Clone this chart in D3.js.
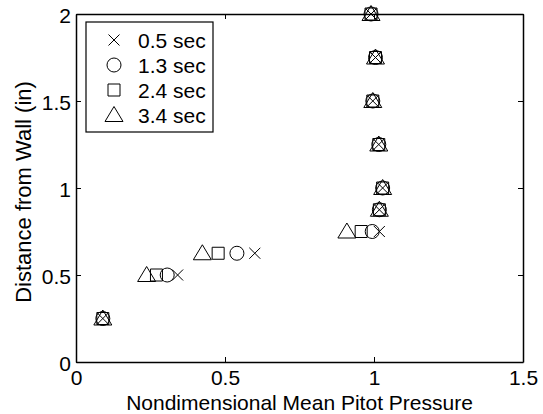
<!DOCTYPE html>
<html>
<head>
<meta charset="utf-8">
<script src="https://cdn.jsdelivr.net/npm/d3@7"></script>
<style>
  html, body { margin: 0; padding: 0; background: #fff; }
  svg { display: block; }
  text { font-family: "Liberation Sans", Arial, Helvetica, sans-serif; fill: #000; }
</style>
</head>
<body>
<svg id="chart" width="543" height="414"></svg>
<script>
// ---- data ----
const seriesNames = ["0.5 sec", "1.3 sec", "2.4 sec", "3.4 sec"];
const seriesMarkers = ["x", "circle", "square", "triangle"];
const distance = [0.25, 0.5, 0.625, 0.75, 0.875, 1.0, 1.25, 1.5, 1.75, 2.0];
const pressure05 = [0.09, 0.341, 0.600, 1.018, 1.018, 1.029, 1.016, 0.996, 1.005, 0.99];
const pressure13 = [0.09, 0.306, 0.540, 0.994, 1.018, 1.029, 1.016, 0.996, 1.005, 0.99];
const pressure24 = [0.09, 0.270, 0.477, 0.957, 1.018, 1.029, 1.016, 0.996, 1.005, 0.99];
const pressure34 = [0.09, 0.237, 0.424, 0.909, 1.018, 1.029, 1.016, 0.996, 1.005, 0.99];
const xTicks = [0, 0.5, 1, 1.5];
const yTicks = [0, 0.5, 1, 1.5, 2];
const xLabel = "Nondimensional Mean Pitot Pressure";
const yLabel = "Distance from Wall (in)";

const seriesValues = [pressure05, pressure13, pressure24, pressure34];

// ---- layout ----
const plot = { left: 76, right: 523, top: 14, bottom: 362 };
const fontSize = 21;

const svg = d3.select("#chart");
const x = d3.scaleLinear().domain([0, 1.5]).range([plot.left, plot.right]);
const y = d3.scaleLinear().domain([0, 2]).range([plot.bottom, plot.top]);

const fmt = d => String(d);

function markerPath(type) {
  const p = d3.path();
  if (type === "x") {
    const h = 5.5;
    p.moveTo(-h, -h); p.lineTo(h, h);
    p.moveTo(-h, h); p.lineTo(h, -h);
  } else if (type === "circle") {
    p.arc(0, 0, 7, 0, 2 * Math.PI);
    p.closePath();
  } else if (type === "square") {
    const h = 6;
    p.rect(-h, -h, 2 * h, 2 * h);
  } else if (type === "triangle") {
    const w = 9, top = -8.5, bot = 6.5;
    p.moveTo(0, top); p.lineTo(w, bot); p.lineTo(-w, bot); p.closePath();
  }
  return p.toString();
}

// axes: box with inward, mirrored ticks
const tickLen = 5;
const axisG = svg.append("g");
const xAxisB = d3.axisBottom(x).tickValues(xTicks).tickFormat(fmt).tickSizeInner(-tickLen).tickSizeOuter(0).tickPadding(8);
const xAxisT = d3.axisTop(x).tickValues(xTicks).tickFormat("").tickSizeInner(-tickLen).tickSizeOuter(0);
const yAxisL = d3.axisLeft(y).tickValues(yTicks).tickFormat(fmt).tickSizeInner(-tickLen).tickSizeOuter(0).tickPadding(5);
const yAxisR = d3.axisRight(y).tickValues(yTicks).tickFormat("").tickSizeInner(-tickLen).tickSizeOuter(0);

const gxb = axisG.append("g").attr("transform", `translate(0,${plot.bottom})`).call(xAxisB);
const gxt = axisG.append("g").attr("transform", `translate(0,${plot.top})`).call(xAxisT);
const gyl = axisG.append("g").attr("transform", `translate(${plot.left},0)`).call(yAxisL);
const gyr = axisG.append("g").attr("transform", `translate(${plot.right},0)`).call(yAxisR);

[gxb, gxt, gyl, gyr].forEach(g => {
  g.selectAll("path.domain").attr("stroke", "#000").attr("stroke-width", 1.5);
  g.selectAll(".tick line").attr("stroke", "#000").attr("stroke-width", 1);
  g.selectAll(".tick text").attr("font-size", fontSize)
    .attr("font-family", "Liberation Sans, Arial, sans-serif").attr("fill", "#000");
});
gyl.selectAll(".tick text").attr("dy", "0.42em");

// axis titles
svg.append("text")
  .attr("x", (plot.left + plot.right) / 2)
  .attr("y", 410)
  .attr("text-anchor", "middle")
  .attr("font-size", fontSize)
  .text(xLabel);

svg.append("text")
  .attr("transform", `translate(31,${(plot.top + plot.bottom) / 2 + 4}) rotate(-90)`)
  .attr("text-anchor", "middle")
  .attr("font-size", fontSize + 1)
  .text(yLabel);

// data markers
const dataG = svg.append("g");
seriesValues.forEach((vals, si) => {
  dataG.append("g")
    .selectAll("path")
    .data(vals.map((v, i) => ({ x: v, y: distance[i] })))
    .join("path")
    .attr("transform", d => `translate(${x(d.x)},${y(d.y)})`)
    .attr("d", markerPath(seriesMarkers[si]))
    .attr("fill", "none")
    .attr("stroke", "#000")
    .attr("stroke-width", 1);
});

// legend
const leg = { x: 86, y: 22, w: 127, h: 110 };
const legG = svg.append("g");
legG.append("rect")
  .attr("x", leg.x).attr("y", leg.y).attr("width", leg.w).attr("height", leg.h)
  .attr("fill", "#fff").attr("stroke", "#000").attr("stroke-width", 1.2);
const rowY = d3.scalePoint().domain(seriesNames).range([40, 115]);
seriesNames.forEach((name, i) => {
  legG.append("path")
    .attr("transform", `translate(114,${rowY(name)})`)
    .attr("d", markerPath(seriesMarkers[i]))
    .attr("fill", "none").attr("stroke", "#000").attr("stroke-width", 1);
  legG.append("text")
    .attr("x", 138).attr("y", rowY(name))
    .attr("dy", "0.36em")
    .attr("font-size", fontSize)
    .text(name);
});
</script>
</body>
</html>
